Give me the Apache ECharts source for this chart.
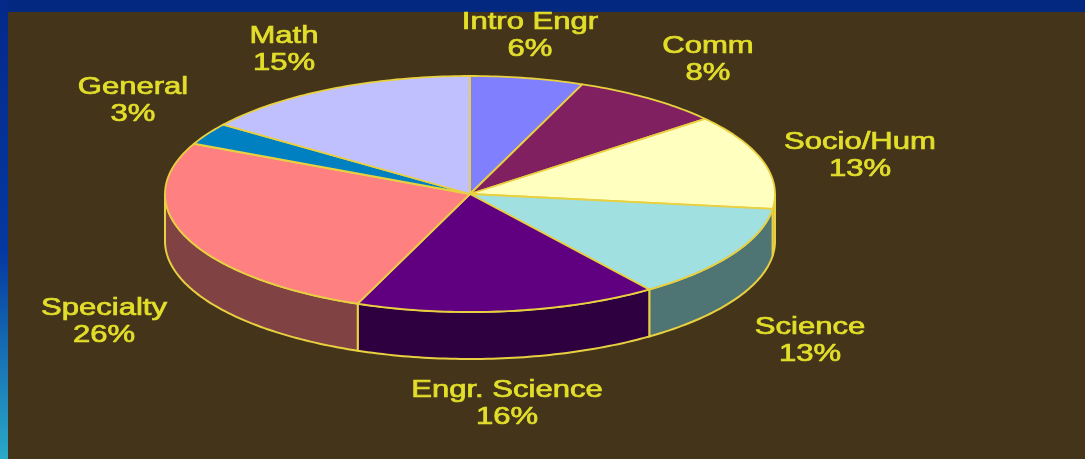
<!DOCTYPE html>
<html>
<head>
<meta charset="utf-8">
<script src="https://cdn.jsdelivr.net/npm/echarts@6/dist/echarts.min.js"></script>
<style>
  html, body { margin: 0; padding: 0; background: #04298a; }
  #chart { width: 1085px; height: 459px; }
</style>
</head>
<body>
<div id="chart"></div>
<script>
// ---- data ----
const categories = ['Intro Engr', 'Comm', 'Socio/Hum', 'Science', 'Engr. Science', 'Specialty', 'General', 'Math'];
const shares = [6, 8, 13, 13, 16, 26, 3, 15];

// ---- style / layout ----
const topColors = ['#8080FF', '#802060', '#FFFFC0', '#A0E0E0', '#600080', '#FF8080', '#0080C0', '#C0C0FF'];
const sideColors = ['#404080', '#401030', '#808060', '#4F7474', '#2E0040', '#804242', '#004060', '#606080'];
const labelCenters = [[530, 36], [708, 60], [860, 156], [810, 341], [507, 404], [104, 322], [133, 101], [284, 50]];
const pie = { cx: 470, cy: 194, rx: 305, ry: 118, depth: 47 };
const edgeColor = '#E8D040';
const textColor = '#E2DE2A';

const chart = echarts.init(document.getElementById('chart'), null, { renderer: 'canvas' });
const total = shares.reduce((a, b) => a + b, 0);

function pt(t, dz) {
  return [pie.cx + pie.rx * Math.sin(t), pie.cy - pie.ry * Math.cos(t) + dz];
}
function arc(a, b, dz) {
  const pts = [];
  const n = Math.max(2, Math.ceil(Math.abs(b - a) / (Math.PI / 180)));
  for (let k = 0; k <= n; k++) pts.push(pt(a + (b - a) * k / n, dz));
  return pts;
}

function renderSlice(params, api) {
  const i = params.dataIndex;
  let before = 0;
  for (let k = 0; k < i; k++) before += shares[k];
  const v = api.value(0);
  const a0 = before / total * Math.PI * 2;
  const a1 = (before + v) / total * Math.PI * 2;
  const children = [];
  const lo = Math.max(a0, Math.PI / 2), hi = Math.min(a1, Math.PI * 1.5);
  if (lo < hi) {
    const pts = arc(lo, hi, 0).concat(arc(hi, lo, pie.depth));
    children.push({
      type: 'polygon', shape: { points: pts },
      style: { fill: sideColors[i], stroke: edgeColor, lineWidth: 2, lineJoin: 'round' }
    });
  }
  const topPts = [[pie.cx, pie.cy]].concat(arc(a0, a1, 0));
  children.push({
    type: 'polygon', shape: { points: topPts },
    style: { fill: topColors[i], stroke: edgeColor, lineWidth: 1.8, lineJoin: 'round' }
  });
  const lc = labelCenters[i];
  children.push({
    type: 'text', x: lc[0], y: lc[1], scaleX: 1.35, scaleY: 1,
    style: {
      x: 0, y: 0,
      text: categories[i] + '\n' + v + '%',
      fill: textColor,
      stroke: textColor, lineWidth: 0.7,
      font: '23px "Liberation Sans", Arial, sans-serif',
      align: 'center', verticalAlign: 'middle', lineHeight: 27
    }
  });
  return { type: 'group', children: children };
}

chart.setOption({
  animation: false,
  backgroundColor: '#04298a',
  graphic: [
    { type: 'rect', shape: { x: 0, y: 0, width: 1085, height: 12 }, style: { fill: '#03287f' }, z: -10 },
    { type: 'rect', shape: { x: 0, y: 0, width: 8, height: 459 },
      style: { fill: new echarts.graphic.LinearGradient(0, 0, 0, 1, [
        { offset: 0, color: '#04298a' }, { offset: 0.55, color: '#0538a0' }, { offset: 1, color: '#2aaac8' }]) }, z: -10 },
    { type: 'rect', shape: { x: 8, y: 12, width: 1077, height: 447 }, style: { fill: '#44351a' }, z: -9 }
  ],
  series: [{
    type: 'custom',
    coordinateSystem: 'none',
    data: shares.map(v => [v]),
    renderItem: renderSlice,
    silent: true
  }]
});
</script>
</body>
</html>
